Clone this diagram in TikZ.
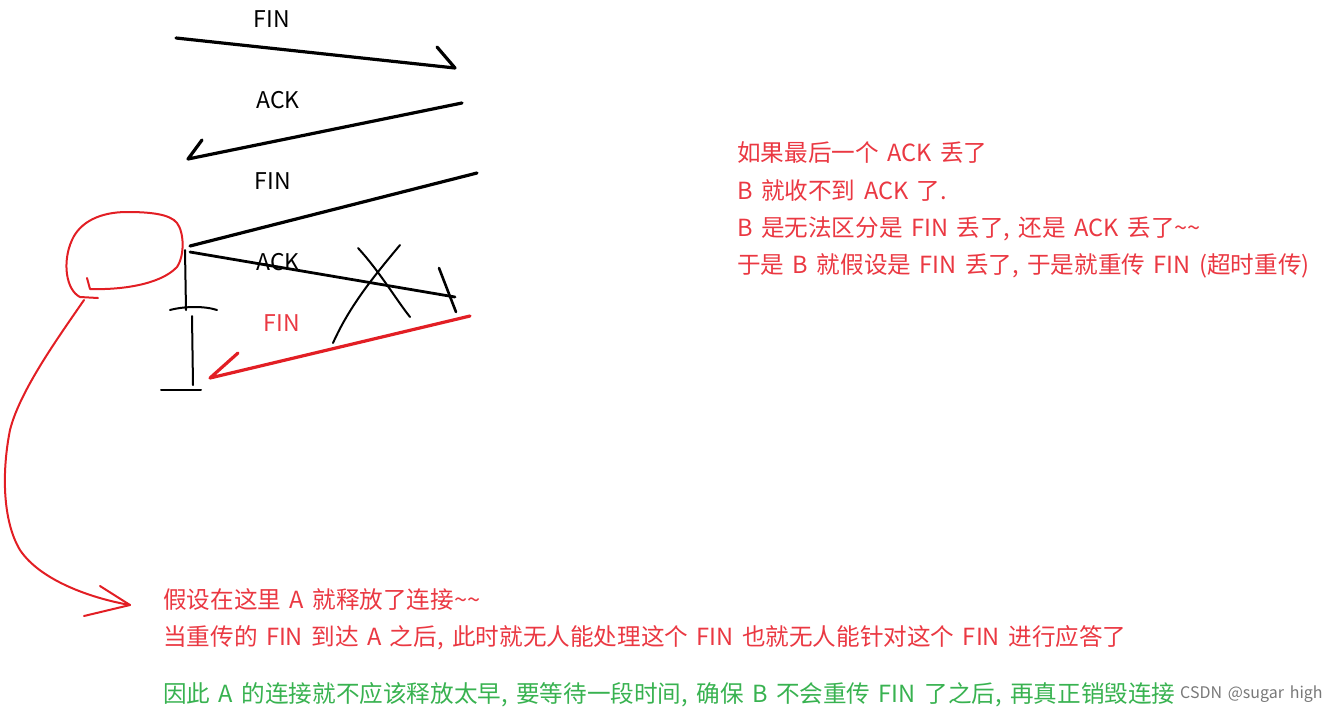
\documentclass[tikz,border=0pt]{standalone}
\usepackage{fontspec}
\setmainfont[WordSpace=1.6]{Noto Sans CJK SC}
\definecolor{txtred}{RGB}{234,56,66}
\definecolor{penred}{RGB}{226,30,36}
\definecolor{txtgreen}{RGB}{56,178,80}
\definecolor{wmgray}{RGB}{120,120,120}
\tikzset{
  lbl/.style={inner sep=0pt, font=\fontsize{23}{27}\selectfont},
  note/.style={inner sep=0pt, anchor=west, font=\fontsize{23.6}{27}\selectfont},
  pen/.style={line width=3.2pt, line cap=round, line join=round},
  thinpen/.style={line width=2pt, line cap=round, line join=round},
  redpen/.style={draw=penred, line width=2pt, line cap=round, line join=round},
}
\begin{document}
\begin{tikzpicture}[x=1pt,y=-1pt]
\useasboundingbox (0,0) rectangle (1328,716);
% message labels
\node[lbl] (l1) at (272,19) {FIN};
\node[lbl] (l2) at (278,100) {ACK};
\node[lbl] (l3) at (273,181) {FIN};
\node[lbl] (l4) at (278,262) {ACK};
\node[lbl, text=txtred] (l5) at (282,323) {FIN};
% endpoints
\coordinate (a1s) at (176,38);  \coordinate (a1e) at (455,68);  \coordinate (a1b) at (437,47);
\coordinate (a2s) at (462,103); \coordinate (a2e) at (188,159); \coordinate (a2b) at (202,140);
\coordinate (a3s) at (477,173); \coordinate (a3e) at (190,246);
\coordinate (a4s) at (190,252); \coordinate (a4e) at (455,297);
\coordinate (a4t1) at (439,268); \coordinate (a4t2) at (456,312);
\coordinate (rfs) at (470,316); \coordinate (rfe) at (210,378); \coordinate (rfb) at (238,353);
% black messages
\draw[pen] (a1s) -- (a1e) -- (a1b);
\draw[pen] (a2s) -- (a2e) -- (a2b);
\draw[pen] (a3s) -- (a3e);
\draw[pen, line width=2.8pt] (a4s) -- (a4e);
\draw[thinpen, line width=2.6pt] (a4t1) -- (a4t2);
% cross
\coordinate (x1a) at (358,248); \coordinate (x1b) at (410,317);
\coordinate (x2a) at (400,245); \coordinate (x2b) at (333,343);
\draw[thinpen] (x1a) .. controls (380,272) and (395,298) .. (x1b);
\draw[thinpen] (x2a) .. controls (375,275) and (350,305) .. (x2b);
% red retransmitted FIN
\draw[draw=penred, line width=3.2pt, line cap=round, line join=round] (rfs) -- (rfe) -- (rfb);
% timeline
\coordinate (t1) at (185,250); \coordinate (t2) at (186,310);
\coordinate (t3) at (170,310); \coordinate (t4) at (217,310);
\coordinate (t5) at (192,316); \coordinate (t6) at (193,385);
\coordinate (t7) at (161,390); \coordinate (t8) at (201,390);
\draw[thinpen] (t1) -- (t2);
\draw[thinpen] (t3) .. controls (185,306) and (205,306) .. (t4);
\draw[thinpen] (t5) -- (t6);
\draw[thinpen] (t7) -- (t8);
% red loop and long arrow
\coordinate (lp0) at (87,278);
\coordinate (lpend) at (130,605);
\draw[redpen] (lp0) -- (90,289)
  .. controls (120,290) and (160,285) .. (177,267)
  .. controls (185,255) and (184,232) .. (177,223)
  .. controls (170,214) and (150,212) .. (127,212)
  .. controls (100,212) and (80,222) .. (72,240)
  .. controls (62,262) and (66,290) .. (80,297)
  -- (98,298);
\draw[redpen] (84,300) .. controls (60,335) and (20,390) .. (10,430)
  .. controls (2,470) and (2,520) .. (20,550)
  .. controls (40,580) and (90,598) .. (lpend);
\draw[redpen] (100,586) -- (lpend) -- (84,616);
% right notes
\node[note, text=txtred] (n1) at (737,153) {如果最后一个 ACK 丢了};
\node[note, text=txtred] (n2) at (737,191) {B 就收不到 ACK 了.};
\node[note, text=txtred] (n3) at (737,229) {B 是无法区分是 FIN 丢了, 还是 ACK 丢了\textasciitilde\textasciitilde};
\node[note, text=txtred] (n4) at (737,266) {于是 B 就假设是 FIN 丢了, 于是就重传 FIN (超时重传)};
% bottom notes
\node[note, text=txtred] (b1) at (163,599) {假设在这里 A 就释放了连接\textasciitilde\textasciitilde};
\node[note, text=txtred] (b2) at (163,638) {当重传的 FIN 到达 A 之后, 此时就无人能处理这个 FIN 也就无人能针对这个 FIN 进行应答了};
\node[note, text=txtgreen] (b3) at (163,695) {因此 A 的连接就不应该释放太早, 要等待一段时间, 确保 B 不会重传 FIN 了之后, 再真正销毁连接};
\node[inner sep=0pt, anchor=west, text=wmgray, font=\fontsize{16}{19}\selectfont] (wm) at (1180,694) {CSDN @sugar high};
\end{tikzpicture}
\end{document}
